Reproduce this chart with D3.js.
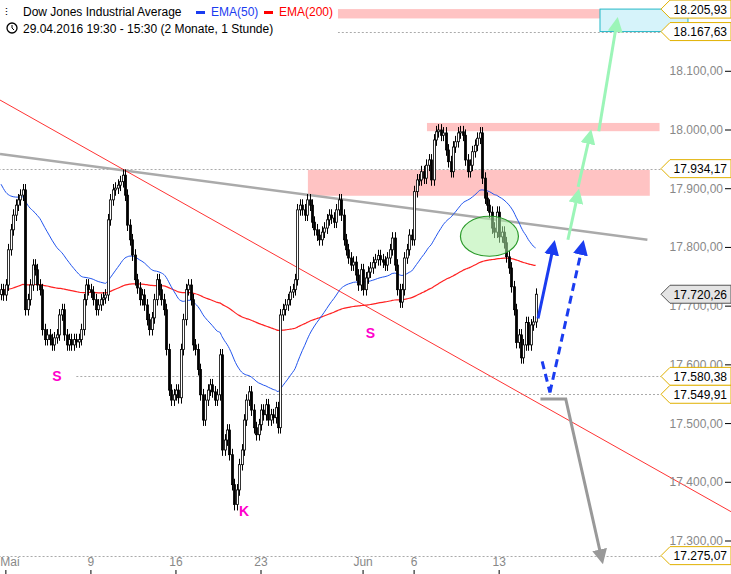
<!DOCTYPE html>
<html><head><meta charset="utf-8">
<script src="https://cdn.jsdelivr.net/npm/d3@7/dist/d3.min.js"></script>
<style>body{margin:0;background:#fff}text{font-family:"Liberation Sans",Arial,sans-serif}</style>
</head><body><svg id="chart"></svg>
<script>
var width = 731, height = 574;

// hourly closes, 29.04.2016 19:30 .. 15.06.2016
var closes = [17728,17719,17736,17796,17830,17855,17872,17881,17889,17898,
17694,17711,17736,17770,17762,17736,17728,17660,17643,17651,
17643,17634,17646,17651,17685,17694,17651,17634,17643,17634,
17643,17639,17643,17660,17711,17736,17728,17724,17711,17694,
17702,17711,17714,17719,17847,17881,17898,17901,17906,17912,
17923,17889,17838,17813,17787,17745,17731,17711,17719,17702,
17677,17660,17680,17711,17745,17728,17711,17694,17626,17557,
17540,17549,17557,17544,17626,17677,17728,17736,17711,17634,
17626,17592,17549,17506,17540,17557,17566,17554,17540,17549,
17617,17455,17472,17489,17447,17396,17362,17387,17430,17455,
17506,17540,17554,17523,17493,17481,17498,17523,17515,17532,
17506,17515,17510,17527,17493,17685,17694,17702,17711,17724,
17728,17745,17864,17872,17864,17855,17881,17872,17843,17830,
17821,17813,17826,17833,17847,17855,17850,17843,17864,17881,
17855,17813,17796,17782,17770,17775,17753,17736,17762,17728,
17748,17758,17765,17774,17779,17786,17779,17775,17770,17782,
17796,17816,17770,17728,17707,17728,17782,17796,17821,17813,
17895,17915,17915,17929,17918,17940,17949,17915,17983,17997,
18000,17991,17995,17966,17946,17929,17971,17980,17995,17997,
17991,17949,17929,17940,17963,17974,17986,17995,17918,17884,
17872,17860,17833,17826,17860,17818,17826,17808,17784,17765,
17733,17694,17638,17651,17612,17634,17672,17634,17668,17673,17720.26];
var firstOpen = 17720;
var wick = 10;
var ema50Start = 17915, ema200Start = 17728;

var yTicks = [17300,17400,17500,17600,17700,17800,17900,18000,18100];
var xTickLabels = ["Mai","9","16","23","Jun","6","13"];
var xTickIndex = [2,37,72,107,149,170,205];
var priceTags = [18205.93,18167.63,17934.17,17580.38,17549.91,17275.07];
var lastPrice = 17720.26;

// drawn annotations in data space (bar index, price)
var grayTrend = [[-0.4,17959],[266,17813]];
var redTrend = [[-0.4,18051],[300.4,17350]];
var zones = [[138.6,246.5,18205.93,18190],[175.3,271,18012,17998],[126.3,267,17932,17888]];
var box = [246.5,282.7,18205.93,18167.63];
var signLabels = [[23,17572,"S"],[152,17646,"S"],[100,17342,"K"]];

var x = d3.scaleLinear().domain([0,1]).range([1,3.43]);
var y = d3.scaleLinear().domain([18000,17300]).range([130,541]);
var svg = d3.select("#chart").attr("width",width).attr("height",height);

// bars
var bars = closes.map(function(c,i){
  var o = i==0 ? firstOpen : closes[i-1];
  return {i:i,o:o,c:c,h:Math.max(o,c)+wick,l:Math.min(o,c)-wick};
});

// EMA
function ema(start,n){
  var a = 2/(n+1), v = start, out = [];
  closes.forEach(function(c,i){ v = v + a*(c-v); out.push({i:i,v:v}); });
  return out;
}
function fmt(v){return d3.format(",.2f")(v).replace(/,/g,"#").replace(".",",").replace(/#/g,".");}

var zg = svg.append("g");
zones.forEach(function(z){
  zg.append("rect").attr("x",x(z[0])).attr("width",x(z[1])-x(z[0]))
    .attr("y",y(z[2])).attr("height",y(z[3])-y(z[2])).attr("fill","#ffbcbc").attr("opacity",0.9);
});
zg.append("rect").attr("x",x(box[0])).attr("width",x(box[1])-x(box[0]))
  .attr("y",y(box[2])).attr("height",y(box[3])-y(box[2]))
  .attr("fill","#aee8f5").attr("fill-opacity",0.5).attr("stroke","#22b8c8");

// dotted guide lines
var guides = [[-1,17934.17],[31,17580.38],[107,17549.91],[138.6,18167.63],[-1,17275.07]];
guides.forEach(function(g){
  svg.append("line").attr("x1",x(g[0])).attr("x2",661).attr("y1",Math.round(y(g[1]))+0.5).attr("y2",Math.round(y(g[1]))+0.5)
    .attr("stroke","#aaa").attr("stroke-dasharray","2,2");
});

var line = d3.line().x(function(d){return x(d[0])}).y(function(d){return y(d[1])});
svg.append("path").attr("d",line(grayTrend)).attr("stroke","#aaa").attr("stroke-width",2.5).attr("fill","none");
svg.append("path").attr("d",line(redTrend)).attr("stroke","#f33").attr("stroke-width",1).attr("fill","none");

var eline = d3.line().x(function(d){return x(d.i)}).y(function(d){return y(d.v)}).curve(d3.curveMonotoneX);
svg.append("path").attr("d",eline(ema(ema200Start,200))).attr("stroke","#f22").attr("fill","none").attr("stroke-width",1.2);
svg.append("path").attr("d",eline(ema(ema50Start,50))).attr("stroke","#2255ee").attr("fill","none").attr("stroke-width",1);

// candles
var cg = svg.append("g");
cg.selectAll("line").data(bars).enter().append("line")
  .attr("x1",function(d){return Math.round(x(d.i))+0.5}).attr("x2",function(d){return Math.round(x(d.i))+0.5})
  .attr("y1",function(d){return y(d.h)}).attr("y2",function(d){return y(d.l)})
  .attr("stroke","#000");
cg.selectAll("rect").data(bars).enter().append("rect")
  .attr("x",function(d){return Math.round(x(d.i))-0.5}).attr("width",2)
  .attr("y",function(d){return y(Math.max(d.o,d.c))})
  .attr("height",function(d){return Math.max(1,Math.abs(y(d.o)-y(d.c)))})
  .attr("fill",function(d){return d.c>=d.o?"#fff":"#000"}).attr("stroke","#000").attr("stroke-width",0.8);

// green ellipse
svg.append("ellipse").attr("cx",x(201)).attr("cy",y(17819)).attr("rx",29).attr("ry",20)
  .attr("fill","#aef0a8").attr("fill-opacity",0.55).attr("stroke","#2a9a2a").attr("stroke-width",1.2);

// arrows
var defs = svg.append("defs");
function marker(id,col){
  defs.append("marker").attr("id",id).attr("viewBox","0 0 10 10").attr("refX",7).attr("refY",5)
    .attr("markerWidth",5).attr("markerHeight",5).attr("orient","auto")
    .append("path").attr("d","M0,0L10,5L0,10z").attr("fill",col);
}
marker("mb","#1a3cf0"); marker("mg","#9cf5b8"); marker("mgr","#999");
var arrows = [
  {p:[[221,17679],[227.5,17805]],c:"#1a3cf0",m:"mb",dash:null},
  {p:[[222.7,17606],[225.9,17553]],c:"#1a3cf0",m:null,dash:"8,5"},
  {p:[[225.9,17553],[239.4,17805]],c:"#1a3cf0",m:"mb",dash:"8,5"},
  {p:[[233.3,17813],[237.5,17893]],c:"#9cf5b8",m:"mg",dash:null},
  {p:[[237.5,17903],[242.5,17994]],c:"#9cf5b8",m:"mg",dash:null},
  {p:[[246,17998],[253.5,18185]],c:"#9cf5b8",m:"mg",dash:null},
  {p:[[222,17542],[232.4,17542],[247.3,17268]],c:"#999",m:"mgr",dash:null}
];
arrows.forEach(function(a){
  svg.append("path").attr("d",line(a.p)).attr("fill","none").attr("stroke",a.c).attr("stroke-width",3)
    .attr("stroke-dasharray",a.dash).attr("marker-end",a.m?"url(#"+a.m+")":null);
});

svg.selectAll("text.sig").data(signLabels).enter().append("text").attr("class","sig")
  .attr("x",function(d){return x(d[0])}).attr("y",function(d){return y(d[1])})
  .attr("fill","#f0c").attr("font-weight","bold").attr("font-size",14).attr("text-anchor","middle").text(function(d){return d[2]});

// right axis
var ax = svg.append("g");
yTicks.forEach(function(t){
  ax.append("line").attr("x1",725).attr("x2",731).attr("y1",y(t)).attr("y2",y(t)).attr("stroke","#000");
  ax.append("text").attr("x",723).attr("y",y(t)+4).attr("text-anchor","end").attr("font-size",12).attr("fill","#888").text(fmt(t));
});
function tag(v,fill,stroke){
  var yy = y(v), g = ax.append("g");
  g.append("path").attr("d","M661,"+yy+"L670,"+(yy-9)+"L731,"+(yy-9)+"L731,"+(yy+9)+"L670,"+(yy+9)+"Z")
    .attr("fill",fill).attr("stroke",stroke);
  g.append("text").attr("x",727).attr("y",yy+4.5).attr("text-anchor","end").attr("font-size",12).attr("fill","#000").text(fmt(v));
}
priceTags.forEach(function(v){tag(v,"#fff","#e0b000")});
tag(lastPrice,"#e4e4e4","#555");

// x axis
xTickIndex.forEach(function(t,k){
  ax.append("text").attr("x",Math.max(x(t),10)).attr("y",566).attr("text-anchor","middle").attr("font-size",12).attr("fill","#888").text(xTickLabels[k]);
  ax.append("line").attr("x1",x(t)).attr("x2",x(t)).attr("y1",570).attr("y2",574).attr("stroke","#000");
});

// header
var hd = svg.append("g");
hd.append("rect").attr("x",0).attr("y",0).attr("width",338).attr("height",38).attr("fill","#fff").attr("opacity",0.85);
hd.append("text").attr("x",5).attr("y",16).attr("font-size",11).text("⫶");
hd.append("text").attr("x",23).attr("y",16).attr("font-size",12).attr("fill","#000").text("Dow Jones Industrial Average");
hd.append("rect").attr("x",196).attr("y",11).attr("width",9).attr("height",3).attr("fill","#1a3cf0");
hd.append("text").attr("x",211).attr("y",16).attr("font-size",12).attr("fill","#1a3cf0").text("EMA(50)");
hd.append("rect").attr("x",264).attr("y",11).attr("width",9).attr("height",3).attr("fill","#f00");
hd.append("text").attr("x",279).attr("y",16).attr("font-size",12).attr("fill","#f00").text("EMA(200)");
hd.append("circle").attr("cx",12).attr("cy",28).attr("r",5).attr("fill","none").attr("stroke","#000").attr("stroke-width",1.3);
hd.append("path").attr("d","M12,25V28L14,30").attr("fill","none").attr("stroke","#000");
hd.append("text").attr("x",23).attr("y",33).attr("font-size",12).attr("fill","#000").text("29.04.2016 19:30 - 15:30 (2 Monate, 1 Stunde)");
</script></body></html>
